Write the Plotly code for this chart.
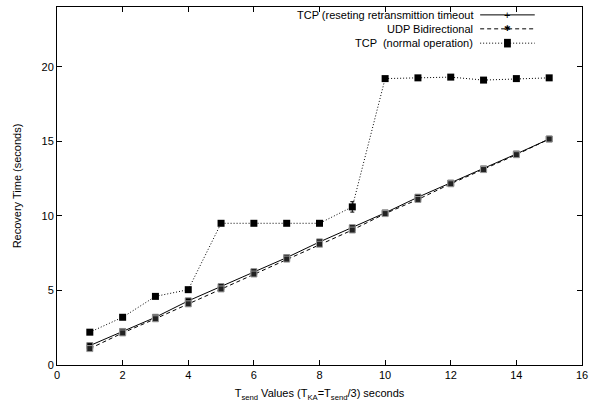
import plotly.graph_objects as go

t_send = [1, 2, 3, 4, 5, 6, 7, 8, 9, 10, 11, 12, 13, 14, 15]
tcp_reset = [1.3, 2.25, 3.2, 4.3, 5.25, 6.25, 7.2, 8.25, 9.2, 10.2, 11.25, 12.2, 13.15, 14.15, 15.15]
udp_bidir = [1.1, 2.15, 3.1, 4.1, 5.1, 6.1, 7.1, 8.1, 9.05, 10.15, 11.1, 12.15, 13.1, 14.1, 15.15]
tcp_normal = [2.2, 3.2, 4.6, 5.05, 9.5, 9.5, 9.5, 9.5, 10.6, 19.2, 19.25, 19.3, 19.1, 19.2, 19.25]
tcp_normal_err = [0.05, 0.05, 0.05, 0.05, 0.05, 0.05, 0.05, 0.05, 0.35, 0.05, 0.05, 0.05, 0.05, 0.05, 0.05]

labels = ["TCP (reseting retransmittion timeout", "UDP Bidirectional", "TCP  (normal operation)"]

FONT = "Liberation Sans, Arial, Helvetica, sans-serif"
DASHES = ["solid", "4px,3px", "1px,2px"]

fig = go.Figure()

fig.add_trace(go.Scatter(
    x=t_send, y=tcp_reset, mode="lines+markers", name=labels[0],
    line=dict(color="black", width=1, dash=DASHES[0]),
    marker=dict(symbol="square", size=6, color="black", line=dict(color="#888888", width=1)),
    showlegend=False))
fig.add_trace(go.Scatter(
    x=t_send, y=udp_bidir, mode="lines+markers", name=labels[1],
    line=dict(color="black", width=1, dash=DASHES[1]),
    marker=dict(symbol="square", size=6, color="#222222", line=dict(color="#999999", width=1)),
    showlegend=False))
fig.add_trace(go.Scatter(
    x=t_send, y=tcp_normal, mode="lines+markers", name=labels[2],
    line=dict(color="black", width=1, dash=DASHES[2]),
    marker=dict(symbol="square", size=7, color="black"),
    error_y=dict(type="data", array=tcp_normal_err, color="black", thickness=1, width=2),
    showlegend=False))

# manual gnuplot-style legend (text right-aligned, sample to the right)
leg_y = [0.978, 0.939, 0.899]
for lab, yy, d in zip(labels, leg_y, DASHES):
    fig.add_annotation(xref="paper", yref="paper", x=0.797, y=yy, text=lab,
                       showarrow=False, xanchor="right", yanchor="middle",
                       font=dict(family=FONT, size=11, color="black"))
    fig.add_shape(type="line", xref="paper", yref="paper", x0=0.806, x1=0.910, y0=yy, y1=yy,
                  line=dict(color="black", width=1, dash=d))
# legend point symbols
fig.add_annotation(xref="paper", yref="paper", x=0.858, y=leg_y[0], text="+", showarrow=False,
                   xanchor="center", yanchor="middle", font=dict(family=FONT, size=11, color="black"))
fig.add_annotation(xref="paper", yref="paper", x=0.858, y=leg_y[1], text="✱", showarrow=False,
                   xanchor="center", yanchor="middle", font=dict(family="DejaVu Sans", size=8, color="black"))
fig.add_shape(type="rect", xref="paper", yref="paper", x0=0.8515, x1=0.8645,
              y0=leg_y[2] - 0.012, y1=leg_y[2] + 0.012, fillcolor="black", line=dict(width=0))

fig.update_layout(
    width=592, height=406,
    margin=dict(l=57, r=10, t=7, b=41),
    paper_bgcolor="white", plot_bgcolor="white",
    font=dict(family=FONT, size=11, color="black"),
    showlegend=False,
)
fig.update_xaxes(
    range=[0, 16], tickvals=[0, 2, 4, 6, 8, 10, 12, 14, 16], automargin=False,
    ticks="inside", ticklen=5, tickcolor="black", mirror="ticks",
    showline=True, linecolor="black", linewidth=1, showgrid=False, zeroline=False,
    tickfont=dict(family=FONT, size=11, color="black"),
    title=dict(text="T<sub>send</sub> Values (T<sub>KA</sub>=T<sub>send</sub>/3) seconds",
               font=dict(family=FONT, size=11, color="black"), standoff=9),
)
fig.update_yaxes(
    range=[0, 24], tickvals=[0, 5, 10, 15, 20], automargin=False,
    ticks="inside", ticklen=5, tickcolor="black", mirror="ticks",
    showline=True, linecolor="black", linewidth=1, showgrid=False, zeroline=False,
    tickfont=dict(family=FONT, size=11, color="black"),
    title=dict(text="Recovery Time (seconds)",
               font=dict(family=FONT, size=11, color="black"), standoff=17),
)

fig.write_html("out.html", config={"displayModeBar": False},
               post_script="document.body.style.margin='0';document.body.style.overflow='hidden';")
